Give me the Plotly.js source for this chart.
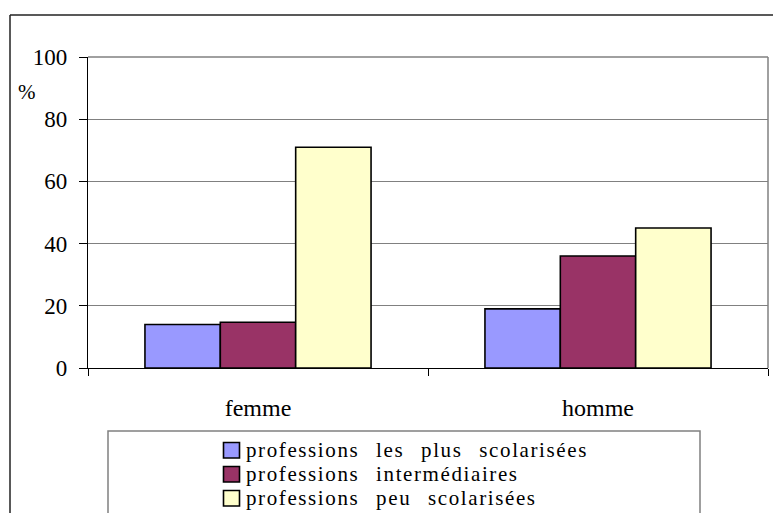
<!DOCTYPE html>
<html>
<head>
<meta charset="utf-8">
<script src="https://cdn.plot.ly/plotly-3.0.1.min.js"></script>
<style>
  html, body { margin: 0; padding: 0; background: #fff; }
  .annotation-text { word-spacing: 10px; letter-spacing: 1.6px; }
</style>
</head>
<body>
<div id="chart" style="width:773px;height:513px"></div>
<script>
// ---- data ----
const categories = ["femme", "homme"];
const seriesNames = [
  "professions les plus scolarisées",
  "professions intermédiaires",
  "professions peu scolarisées"
];
const plusScolarisees = [14, 19];
const intermediaires = [14.7, 36];
const peuScolarisees = [71, 45];
const yTickValues = [0, 20, 40, 60, 80, 100];
const yUnitLabel = "%";

// ---- styles ----
const colors = ["#9999FF", "#993366", "#FFFFCC"];
const fontFam = "Liberation Serif";

// plot-area geometry (pixels) used to place the hand-drawn frame & legend
const W = 773, H = 513;
const M = { l: 88, r: 5, t: 57, b: 145 };
const PW = W - M.l - M.r, PH = H - M.t - M.b;
const px = v => (v - M.l) / PW;
const py = v => (H - M.b - v) / PH;

const values = [plusScolarisees, intermediaires, peuScolarisees];
const traces = values.map((vals, i) => ({
  type: "bar",
  name: seriesNames[i],
  x: categories,
  y: vals,
  marker: { color: colors[i], line: { color: "#000", width: 1.6 } },
  hoverinfo: "x+y+name"
}));

const shapes = [
  { type: "line", xref: "paper", yref: "paper", x0: px(10), x1: px(780), y0: py(15), y1: py(15), line: { color: "#222", width: 1.5 } },
  { type: "line", xref: "paper", yref: "paper", x0: px(10), x1: px(10), y0: py(15), y1: py(520), line: { color: "#222", width: 1.5 } },
  { type: "line", xref: "paper", yref: "paper", x0: 0, x1: 1, y0: 1, y1: 1, line: { color: "#808080", width: 1.5 } },
  { type: "line", xref: "paper", yref: "paper", x0: 1, x1: 1, y0: 0, y1: 1, line: { color: "#808080", width: 1.5 } },
  { type: "rect", xref: "paper", yref: "paper", x0: px(108), x1: px(700), y0: py(431), y1: py(530), line: { color: "#808080", width: 1.5 }, fillcolor: "rgba(0,0,0,0)" }
];

const annotations = [
  { xref: "paper", yref: "paper", x: px(27.5), y: py(92), text: yUnitLabel, showarrow: false,
    xanchor: "center", yanchor: "middle", font: { family: fontFam, size: 21, color: "#000" } }
];

const rowTop = [442.5, 466.5, 490.5];
seriesNames.forEach((name, i) => {
  shapes.push({ type: "rect", xref: "paper", yref: "paper",
    x0: px(223.5), x1: px(239.5), y0: py(rowTop[i]), y1: py(rowTop[i] + 15.5),
    fillcolor: colors[i], line: { color: "#000", width: 1.6 } });
  annotations.push({ xref: "paper", yref: "paper", x: px(244), y: py(rowTop[i] + 7),
    text: name, showarrow: false, xanchor: "left", yanchor: "middle",
    font: { family: fontFam, size: 21, color: "#000" } });
});

const layout = {
  width: W, height: H,
  margin: M,
  paper_bgcolor: "#fff", plot_bgcolor: "#fff",
  showlegend: false,
  barmode: "group",
  bargap: 0.335,
  bargroupgap: 0,
  font: { family: fontFam, color: "#000" },
  xaxis: {
    type: "category",
    range: [-0.5, 1.5],
    tickson: "boundaries",
    ticks: "outside", ticklen: 7, tickcolor: "#000", tickwidth: 1,
    showline: true, linecolor: "#000", linewidth: 1.2,
    showgrid: false, zeroline: false,
    tickfont: { family: fontFam, size: 24, color: "#000" },
    ticklabelstandoff: 18,
    fixedrange: true
  },
  yaxis: {
    range: [0, 100],
    tickvals: yTickValues,
    ticktext: yTickValues.map(String),
    ticks: "outside", ticklen: 8, tickcolor: "#000", tickwidth: 1,
    showline: true, linecolor: "#000", linewidth: 1.2,
    showgrid: true, gridcolor: "#808080", gridwidth: 1,
    zeroline: false,
    tickfont: { family: fontFam, size: 23, color: "#000" },
    ticklabelstandoff: 7,
    fixedrange: true
  },
  shapes: shapes,
  annotations: annotations
};

function draw() {
  Plotly.newPlot("chart", traces, layout, { displayModeBar: false });
}
if (document.fonts && document.fonts.load) {
  document.fonts.load('22px "Liberation Serif"').then(draw, draw);
} else {
  draw();
}
</script>
</body>
</html>
